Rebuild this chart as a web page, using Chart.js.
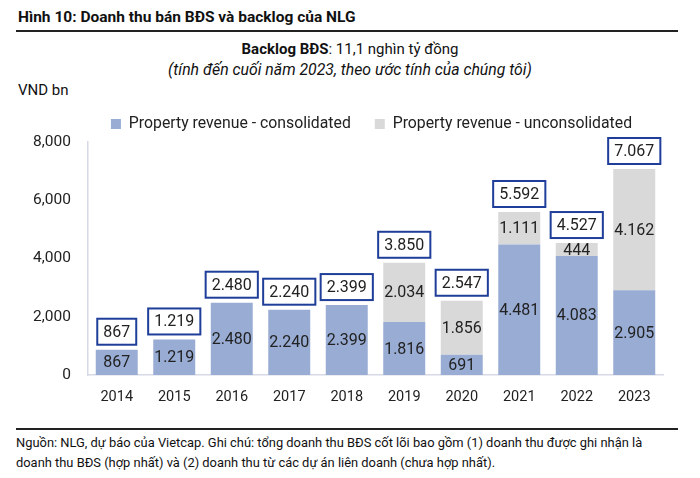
<!DOCTYPE html>
<html>
<head>
<meta charset="utf-8">
<script src="https://cdn.jsdelivr.net/npm/chart.js@4"></script>
<style>
  body { margin: 0; background: #fff; font-family: Roboto, sans-serif; color: #111; }
  .wrap { position: relative; width: 700px; height: 478px; overflow: hidden; }
  .title { position: absolute; left: 18px; top: 8px; font-size: 15.5px; font-weight: bold; }
  .rule { position: absolute; left: 16px; width: 662px; height: 2px; background: #222; }
  .sub { position: absolute; left: 0; width: 700px; text-align: center; font-size: 15px; }
  .unit { position: absolute; left: 18px; top: 81px; font-size: 15px; }
  .foot { position: absolute; left: 16px; top: 433px; font-size: 12.9px; line-height: 20px; }
  #chartBox { position: absolute; left: 0; top: 92px; width: 700px; height: 319px; }
</style>
</head>
<body>
<div class="wrap">
  <div class="title">Hình 10: Doanh thu bán BĐS và backlog của NLG</div>
  <div class="rule" style="top:30px"></div>
  <div class="sub" style="top:40px"><b>Backlog BĐS</b>: 11,1 nghìn tỷ đồng</div>
  <div class="sub" style="top:60px; font-size:15.8px"><i>(tính đến cuối năm 2023, theo ước tính của chúng tôi)</i></div>
  <div class="unit">VND bn</div>
  <div id="chartBox"><canvas id="chart"></canvas></div>
  <div class="rule" style="top:428px"></div>
  <div class="foot">Nguồn: NLG, dự báo của Vietcap. Ghi chú: tổng doanh thu BĐS cốt lõi bao gồm (1) doanh thu được ghi nhận là<br>doanh thu BĐS (hợp nhất) và (2) doanh thu từ các dự án liên doanh (chưa hợp nhất).</div>
</div>
<script>
const years = ["2014", "2015", "2016", "2017", "2018", "2019", "2020", "2021", "2022", "2023"];
const consolidated = [867, 1219, 2480, 2240, 2399, 1816, 691, 4481, 4083, 2905];
const unconsolidated = [null, null, null, null, null, 2034, 1856, 1111, 444, 4162];
const yTicks = [0, 2000, 4000, 6000, 8000];

const fmtDot = (v) => v.toLocaleString("de-DE");
const fmtComma = (v) => v.toLocaleString("en-US");

// labels inside the bars plus the boxed totals on top
const labelPlugin = {
    id: "labels",
    afterDatasetsDraw(chart) {
        const ctx = chart.ctx;
        const yScale = chart.scales.y;
        ctx.save();
        ctx.font = "16px Roboto";
        ctx.textAlign = "center";
        ctx.textBaseline = "middle";
        chart.data.datasets.forEach((ds, di) => {
            chart.getDatasetMeta(di).data.forEach((bar, i) => {
                const v = ds.data[i];
                if (v == null) return;
                ctx.fillStyle = "#222";
                ctx.fillText(fmtDot(v), bar.x, (bar.y + bar.base) / 2 + 1);
            });
        });
        const meta = chart.getDatasetMeta(0);
        years.forEach((y, i) => {
            const total = consolidated[i] + (unconsolidated[i] || 0);
            const top = yScale.getPixelForValue(total);
            const x = meta.data[i].x;
            const txt = fmtDot(total);
            const w = ctx.measureText(txt).width + 12;
            const h = 26;
            const bottom = top - 5;
            ctx.fillStyle = "#fff";
            ctx.fillRect(x - w / 2, bottom - h, w, h);
            ctx.strokeStyle = "#1f3e99";
            ctx.lineWidth = 2;
            ctx.strokeRect(x - w / 2, bottom - h, w, h);
            ctx.fillStyle = "#222";
            ctx.fillText(txt, x, bottom - h / 2 + 1);
        });
        ctx.restore();
    }
};

// centre the legend over the plot area instead of the whole canvas
const legendShift = {
    id: "legendShift",
    afterLayout(chart) {
        const lg = chart.legend;
        const dx = (chart.chartArea.left + chart.chartArea.right) / 2 - (lg.left + lg.right) / 2 - 4;
        lg.left += dx;
        lg.right += dx;
    }
};

new Chart(document.getElementById("chart"), {
    type: "bar",
    data: {
        labels: years,
        datasets: [
            {
                label: "Property revenue - consolidated",
                data: consolidated,
                backgroundColor: "#98acd4",
                categoryPercentage: 1,
                barPercentage: 0.73,
            },
            {
                label: "Property revenue - unconsolidated",
                data: unconsolidated,
                backgroundColor: "#d9d9d9",
                categoryPercentage: 1,
                barPercentage: 0.73,
            },
        ],
    },
    options: {
        responsive: true,
        maintainAspectRatio: false,
        animation: false,
        layout: { padding: { right: 37 } },
        scales: {
            x: {
                stacked: true,
                grid: { display: false, drawTicks: false },
                border: { color: "#d5dae6", width: 1.5 },
                ticks: { color: "#222", font: { family: "Roboto", size: 14.5 }, padding: 14 },
                afterFit: (scale) => { scale.height = 36; },
            },
            y: {
                stacked: true,
                min: 0,
                max: 8000,
                afterBuildTicks: (scale) => { scale.ticks = yTicks.map((v) => ({ value: v })); },
                grid: { display: false, drawTicks: false },
                border: { color: "#d5dae6", width: 1.5 },
                ticks: { color: "#222", font: { family: "Roboto", size: 15.5 }, padding: 17, callback: (v) => fmtComma(v) },
                afterFit: (scale) => { scale.width = 88; },
            },
        },
        plugins: {
            legend: {
                position: "top",
                labels: {
                    boxWidth: 10,
                    boxHeight: 10,
                    padding: 24,
                    color: "#222",
                    font: { family: "Roboto", size: 15.8 },
                },
            },
            tooltip: { enabled: false },
        },
    },
    plugins: [labelPlugin, legendShift],
});
</script>
</body>
</html>
